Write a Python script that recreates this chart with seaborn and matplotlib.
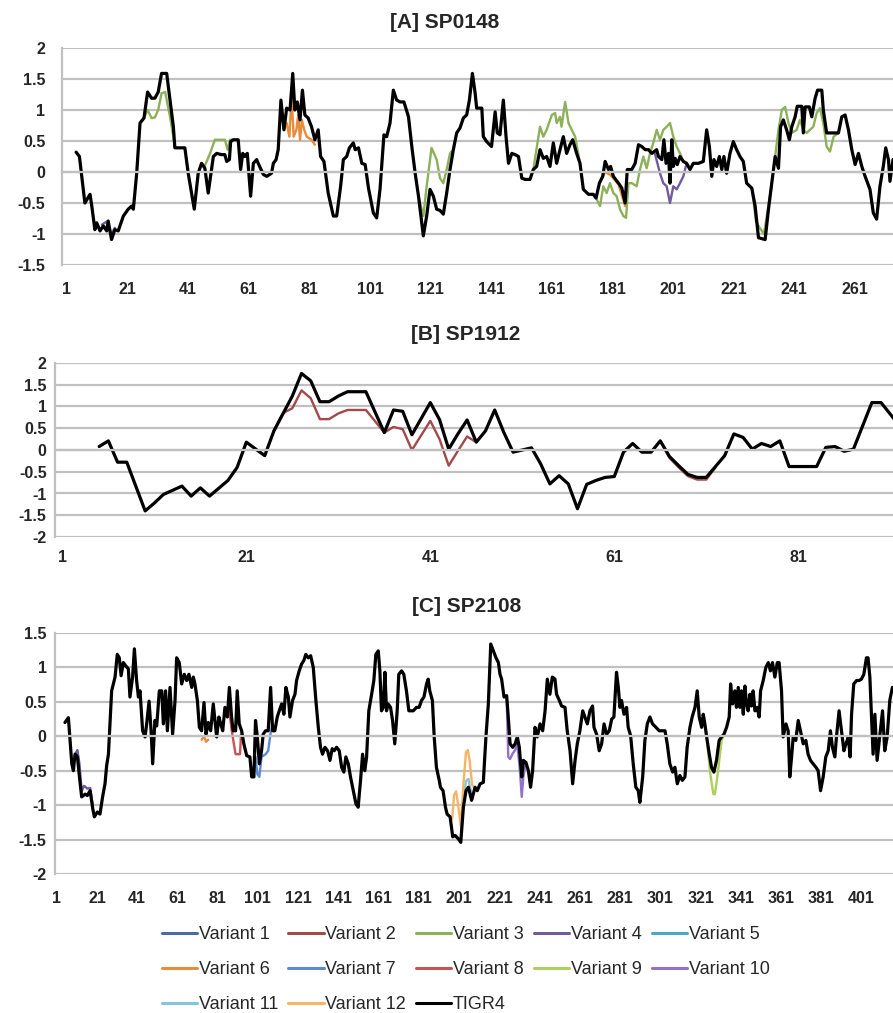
import numpy as np
import pandas as pd
import seaborn as sns
import matplotlib.pyplot as plt
from matplotlib.lines import Line2D

# ---- series names / colours (Excel 2007 style) ----
series_names = ['Variant 1', 'Variant 2', 'Variant 3', 'Variant 4', 'Variant 5', 'Variant 6',
                'Variant 7', 'Variant 8', 'Variant 9', 'Variant 10', 'Variant 11', 'Variant 12', 'TIGR4']
series_colors = ['#4A6BA3', '#A2494A', '#8CB158', '#6F5B9E', '#4BA7C6', '#E88B3A',
                 '#5B8AD9', '#CC514F', '#AECF5E', '#9271CC', '#83C5DA', '#F4B566', '#000000']

# ---- [A] SP0148 ----
a_tigr4_res = [4.0, 5.1, 6.9, 8.6, 9.1, 10.2, 10.8, 11.9, 13.0, 14.1,
               14.6, 15.7, 16.8, 17.9, 19.6, 21.2, 22.3, 22.9, 24.0, 25.1,
               26.4, 27.6, 28.9, 30.0, 31.1, 32.2, 33.9, 35.0, 36.1, 36.6,
               39.9, 41.0, 43.0, 44.3, 45.4, 46.5, 47.6, 49.3, 50.4, 52.0,
               53.1, 53.7, 54.6, 55.0, 55.9, 57.5, 58.3, 59.0, 59.7, 60.5,
               61.6, 62.5, 63.6, 64.1, 65.8, 66.9, 68.5, 69.1, 70.0, 70.7,
               71.6, 72.6, 73.5, 74.6, 75.5, 76.2, 77.0, 77.9, 78.7, 79.5,
               80.6, 81.7, 82.8, 83.9, 84.7, 85.8, 87.2, 88.9, 90.0, 91.3,
               92.2, 93.3, 94.2, 95.5, 96.1, 97.2, 98.3, 99.4, 100.5, 102.1,
               103.2, 104.3, 105.6, 106.5, 107.6, 108.7, 109.8, 110.9, 112.2, 113.7,
               114.8, 115.9, 117.0, 118.6, 119.7, 120.8, 121.9, 123.0, 124.1, 125.2,
               126.3, 127.4, 128.5, 129.6, 130.7, 131.8, 132.9, 133.8, 134.8, 135.7,
               136.2, 137.9, 138.4, 139.5, 141.1, 142.3, 143.0, 143.9, 145.0, 145.9,
               146.7, 147.8, 148.9, 150.0, 151.1, 152.2, 153.8, 154.9, 156.0, 157.1,
               158.2, 159.3, 160.4, 161.5, 162.6, 163.7, 164.8, 165.9, 167.0, 167.9,
               169.2, 170.3, 171.4, 173.1, 174.7, 175.6, 176.7, 177.8, 178.6, 179.7,
               180.4, 181.3, 183.0, 184.1, 185.2, 185.9, 187.4, 188.5, 189.6, 190.7,
               191.8, 192.9, 194.0, 195.6, 196.2, 197.3, 198.0, 198.7, 199.5, 200.0,
               200.6, 201.1, 201.7, 202.4, 203.3, 204.4, 205.5, 206.6, 207.7, 209.4,
               211.0, 212.1, 213.0, 213.8, 214.5, 215.4, 216.3, 217.1, 217.8, 218.7,
               219.8, 220.9, 222.0, 223.1, 224.2, 225.3, 227.0, 228.1, 229.2, 231.4,
               232.5, 233.6, 234.7, 235.8, 236.5, 237.4, 238.5, 239.4, 240.2, 241.3,
               242.0, 243.5, 244.0, 244.6, 246.0, 246.8, 247.9, 248.7, 250.1, 250.6,
               251.7, 255.6, 256.7, 257.8, 258.9, 260.0, 261.1, 262.2, 263.3, 264.4,
               266.0, 267.1, 268.2, 269.3, 270.4, 271.2, 272.1, 272.6, 273.6]
a_tigr4_val = [0.32, 0.25, -0.50, -0.36, -0.52, -0.93, -0.82, -0.95, -0.87, -0.95,
               -0.79, -1.09, -0.93, -0.95, -0.71, -0.60, -0.55, -0.60, -0.02, 0.79,
               0.87, 1.29, 1.19, 1.19, 1.29, 1.59, 1.59, 1.16, 0.73, 0.39,
               0.39, -0.02, -0.60, -0.02, 0.14, 0.06, -0.34, 0.25, 0.30, 0.28,
               0.28, 0.17, 0.20, 0.49, 0.52, 0.52, 0.04, 0.30, 0.25, 0.30,
               -0.39, 0.14, 0.20, 0.14, -0.04, -0.07, -0.02, 0.14, 0.20, 0.36,
               1.16, 0.68, 1.03, 1.00, 1.59, 1.00, 1.13, 0.84, 1.32, 0.92,
               0.87, 0.73, 0.52, 0.68, 0.25, 0.17, -0.34, -0.71, -0.71, -0.23,
               0.20, 0.25, 0.39, 0.47, 0.36, 0.39, 0.14, 0.12, -0.26, -0.66,
               -0.74, -0.28, 0.60, 0.57, 0.79, 1.32, 1.16, 1.13, 1.13, 0.89,
               0.41, -0.02, -0.39, -1.03, -0.71, -0.28, -0.39, -0.60, -0.62, -0.68,
               -0.34, 0.04, 0.36, 0.63, 0.71, 0.87, 0.92, 1.16, 1.59, 1.27,
               1.03, 1.03, 0.57, 0.49, 0.41, 0.97, 0.63, 0.60, 1.16, 0.57,
               0.14, 0.30, 0.28, 0.25, -0.10, -0.12, -0.12, 0.04, 0.09, 0.36,
               0.22, 0.25, 0.09, 0.47, 0.14, 0.36, 0.57, 0.30, 0.44, 0.52,
               0.30, 0.14, -0.28, -0.36, -0.36, -0.42, -0.18, -0.07, 0.17, 0.04,
               0.09, -0.07, -0.18, -0.26, -0.50, 0.04, 0.04, 0.14, 0.44, 0.41,
               0.36, 0.36, 0.30, 0.36, 0.25, 0.20, 0.52, 0.14, 0.30, -0.18,
               0.52, 0.09, 0.22, 0.12, 0.25, 0.17, 0.14, 0.04, 0.14, 0.14,
               0.17, 0.68, 0.41, -0.07, 0.20, 0.09, 0.25, 0.04, 0.25, -0.02,
               0.30, 0.49, 0.36, 0.25, 0.17, -0.18, -0.26, -0.55, -1.06, -1.09,
               -0.60, -0.18, 0.25, 0.06, 0.73, 0.84, 0.68, 0.52, 0.73, 0.89,
               1.06, 1.06, 0.63, 1.05, 1.05, 0.89, 1.19, 1.32, 1.32, 1.00,
               0.63, 0.63, 0.89, 0.92, 0.68, 0.36, 0.12, 0.30, 0.09, -0.07,
               -0.28, -0.66, -0.76, -0.23, 0.09, 0.39, 0.20, -0.15, 0.20]

a_v3_res = [[26.4, 27.6, 28.9, 30.0, 31.1, 32.2, 33.4, 35.0, 36.1, 36.6],
            [45.4, 46.5, 48.2, 49.8, 51.5, 53.1, 54.0, 54.8, 55.9],
            [117.0, 118.6, 119.7, 121.3, 123.0, 124.1, 125.2, 126.3, 127.4, 128.5],
            [154.9, 157.1, 158.2, 159.3, 161.0, 162.1, 162.6, 163.7, 164.2, 165.4, 166.5, 167.6, 168.7, 170.3],
            [175.6, 176.9, 178.0, 179.1, 180.2, 181.3, 182.4, 183.5, 184.6, 185.5, 186.3, 187.4, 189.0,
             190.1, 191.2, 192.3, 193.4, 194.5, 195.6, 196.7, 197.8, 198.9, 200.0, 201.1, 202.2, 203.3, 204.4],
            [227.0, 228.4, 229.6, 231.0, 232.5, 233.6],
            [234.7, 235.8, 236.9, 238.0, 239.1, 240.2, 241.8, 242.9, 244.0, 245.1, 246.2, 247.3, 248.4,
             249.5, 250.6, 251.7, 252.8, 254.0, 255.6]]
a_v3_val = [[0.87, 1.00, 0.87, 0.88, 1.00, 1.27, 1.29, 0.89, 0.57, 0.39],
            [0.14, 0.10, 0.30, 0.52, 0.52, 0.52, 0.36, 0.52, 0.52],
            [-0.39, -0.71, -0.23, 0.39, 0.20, -0.10, -0.18, 0.04, 0.30, 0.36],
            [0.04, 0.73, 0.57, 0.68, 0.92, 0.95, 0.79, 0.89, 0.73, 1.13, 0.79, 0.68, 0.57, 0.14],
            [-0.42, -0.55, -0.23, -0.34, -0.18, -0.34, -0.39, -0.60, -0.71, -0.74, -0.18, -0.18, -0.23,
             0.04, 0.25, 0.06, 0.30, 0.47, 0.68, 0.52, 0.68, 0.73, 0.79, 0.57, 0.41, 0.30, 0.17],
            [-0.26, -0.80, -0.90, -1.00, -0.55, -0.18],
            [0.25, 0.68, 1.00, 1.05, 0.79, 0.63, 0.68, 0.84, 0.68, 0.63, 0.68, 0.73, 0.95,
             1.03, 0.79, 0.41, 0.33, 0.57, 0.63]]
a_v6_res = [[72.6, 73.5, 74.4, 75.1, 75.8, 76.7, 77.3, 77.9, 78.5, 79.3, 80.1, 81.7, 82.8],
            [176.7, 178.6, 180.4, 183.0, 185.2]]
a_v6_val = [[0.68, 0.79, 0.57, 1.24, 0.57, 0.68, 0.92, 0.52, 0.84, 0.68, 0.57, 0.52, 0.44],
            [-0.18, 0.00, -0.05, -0.20, -0.55]]
a_v4_res = [[12.5, 14.1, 15.7, 16.8],
            [195.0, 196.7, 197.8, 198.9, 200.0, 201.1, 202.2, 203.3, 204.4, 205.5]]
a_v4_val = [[-0.85, -0.80, -1.00, -0.90],
            [0.30, -0.02, -0.18, -0.23, -0.50, -0.23, -0.28, -0.18, -0.07, 0.14]]

# ---- [B] SP1912 ----
b_tigr4_res = [5, 6, 7, 8, 10, 11, 12, 14, 15, 16, 17, 19, 20, 21, 23, 24, 26, 27, 28, 29,
               30, 31, 32, 34, 36, 37, 38, 39, 41, 42, 43, 44, 45, 46, 47, 48, 49, 50, 52, 53,
               54, 55, 56, 57, 58, 59, 60, 61, 62, 63, 64, 65, 66, 67, 68, 69, 70, 71, 72, 73,
               74, 75, 76, 77, 78, 79, 80, 83, 84, 85, 86, 87, 89, 90, 92]
b_tigr4_val = [0.08, 0.21, -0.28, -0.28, -1.40, -1.22, -1.02, -0.83, -1.06, -0.87,
               -1.06, -0.70, -0.40, 0.18, -0.13, 0.44, 1.24, 1.76, 1.59, 1.11,
               1.11, 1.24, 1.34, 1.34, 0.40, 0.92, 0.89, 0.35, 1.09, 0.70,
               0.02, 0.37, 0.69, 0.18, 0.44, 0.92, 0.40, -0.05, 0.05, -0.32,
               -0.78, -0.59, -0.78, -1.35, -0.79, -0.70, -0.63, -0.61, -0.05, 0.15,
               -0.05, -0.05, 0.21, -0.15, -0.36, -0.56, -0.63, -0.63, -0.38, -0.13,
               0.37, 0.29, 0.02, 0.15, 0.08, 0.21, -0.38, -0.38, 0.06, 0.08,
               -0.03, 0.02, 1.09, 1.09, 0.56]
b_v2_res = [[24, 25, 26, 27, 28, 29, 30, 31, 32, 34, 36, 37, 38, 39, 41, 42, 43, 44, 45, 46],
            [66, 67, 68, 69, 70, 71, 72]]
b_v2_val = [[0.44, 0.85, 0.96, 1.37, 1.19, 0.71, 0.71, 0.84, 0.92, 0.92, 0.40, 0.53, 0.48, 0.00,
             0.67, 0.25, -0.36, -0.02, 0.31, 0.18],
            [0.21, -0.18, -0.40, -0.60, -0.68, -0.68, -0.40]]

# ---- [C] SP2108 ----
c_tigr4_res = [5.1, 6.8, 8.5, 9.3, 10.1, 11.3, 12.3, 13.4, 15.1, 16.2,
               17.6, 18.9, 19.7, 21.2, 22.5, 23.8, 25.0, 25.8, 26.7, 28.3,
               30.0, 31.1, 32.1, 33.0, 34.1, 35.4, 36.6, 37.4, 38.7, 39.6,
               40.7, 41.6, 42.4, 43.7, 44.9, 45.7, 46.9, 47.9, 48.7, 49.8,
               50.7, 52.0, 53.2, 54.0, 55.1, 56.0, 57.3, 58.6, 59.8, 60.6,
               61.9, 63.1, 64.4, 65.6, 66.7, 68.1, 68.9, 69.7, 70.9, 71.9,
               73.0, 74.2, 75.2, 76.3, 77.5, 78.8, 80.5, 81.6, 82.5, 83.5,
               84.6, 85.8, 86.8, 87.9, 88.7, 89.9, 90.7, 91.7, 92.9, 94.0,
               95.4, 97.0, 97.9, 99.0, 99.8, 100.7, 101.7, 102.8, 103.6, 104.8,
               106.1, 107.3, 108.3, 109.4, 110.6, 111.6, 112.8, 113.9, 114.9, 116.1,
               116.9, 118.2, 119.4, 120.2, 121.5, 122.7, 123.8, 124.8, 126.0, 127.2,
               128.5, 129.8, 131.0, 132.1, 133.1, 134.3, 135.6, 136.8, 137.9, 138.9,
               140.1, 141.4, 142.6, 143.7, 144.7, 145.9, 147.0, 148.4, 149.7, 150.8,
               152.0, 153.0, 154.1, 155.0, 156.1, 157.5, 158.6, 159.6, 160.8, 161.6,
               162.4, 163.3, 164.1, 164.9, 165.7, 166.9, 167.9, 169.0, 170.2, 171.0,
               172.4, 173.5, 174.8, 176.0, 177.0, 178.2, 179.8, 181.1, 182.3, 183.5,
               184.8, 185.6, 186.4, 187.7, 188.6, 189.7, 191.1, 191.7, 193.0, 194.2,
               195.0,
               196.5, 197.8, 199.0, 200.6, 201.8, 203.1, 204.4, 205.6, 207.2, 208.9,
               210.0, 211.4, 213.0, 214.3, 215.5, 216.7, 218.0, 219.3, 220.5, 221.3,
               222.1, 223.3, 224.6, 225.4, 226.3, 227.6, 228.8, 229.9, 230.9, 232.1,
               232.9, 234.2, 235.4, 236.5, 237.5, 238.7, 239.8, 241.2, 242.5, 243.7,
               244.8, 246.1, 247.3, 248.6, 249.4, 250.8, 251.9, 253.6, 254.7, 256.1,
               257.4, 258.6, 259.7, 261.0, 262.4, 263.5, 264.7, 266.0, 267.3, 268.0,
               269.3, 270.6, 271.8, 273.0, 274.3, 275.6, 276.8, 277.9, 279.2, 280.1,
               280.9, 281.7, 282.9, 284.2, 285.0, 286.2, 287.5, 288.8, 290.0, 290.8,
               292.2, 293.3, 294.5, 295.8, 297.1, 298.8, 300.4, 302.1, 303.3, 304.4,
               305.7, 307.1, 308.2, 309.4, 310.7, 311.9, 313.2, 314.3, 315.7, 316.8,
               318.2, 319.3, 320.3, 321.5, 322.3, 323.1, 324.0, 325.3, 326.4, 327.6,
               328.9, 330.2, 331.4, 332.6, 333.9, 335.2, 335.9, 336.9, 338.0, 338.8,
               339.7, 340.5, 341.3, 342.2, 343.0, 343.8, 344.6, 345.5, 346.3, 347.1,
               348.0, 349.1, 350.1, 350.8, 352.1, 353.4, 354.6, 355.7, 356.7, 357.9,
               359.1, 360.0, 361.2, 362.0, 363.4, 364.5, 365.3, 366.2, 367.0, 368.3,
               369.5, 370.6, 372.0, 373.3, 374.4, 375.6, 376.9, 378.3, 379.4, 380.6,
               381.9, 383.2, 384.4, 385.5, 386.5, 387.7, 388.5, 389.8, 391.0, 392.2,
               393.2, 394.4, 395.3, 396.0, 397.1, 398.5, 399.8, 400.9, 402.1, 403.4,
               404.2, 405.1, 405.9, 406.7, 407.6, 408.7, 410.0, 411.4, 412.5, 413.7,
               415.0, 416.3]
c_tigr4_val = [0.20, 0.27, -0.40, -0.50, -0.26, -0.30, -0.59, -0.88, -0.84, -0.86,
               -0.79, -1.05, -1.17, -1.10, -1.13, -0.88, -0.69, -0.43, -0.26, 0.66,
               0.86, 1.19, 1.14, 0.88, 1.07, 1.02, 0.98, 0.57, 0.86, 1.27,
               0.81, 0.57, 0.66, 0.08, -0.01, 0.18, 0.51, 0.08, -0.40, 0.23,
               0.15, 0.66, 0.66, 0.18, 0.66, 0.08, 0.71, 0.03, 0.52, 1.14,
               1.07, 0.76, 0.90, 0.81, 0.90, 0.71, 0.86, 0.76, 0.52, 0.13,
               0.08, 0.49, 0.03, 0.20, 0.08, 0.47, -0.01, 0.28, 0.18, 0.08,
               0.42, 0.28, 0.71, 0.28, 0.08, 0.08, 0.66, 0.18, 0.08, -0.11,
               -0.28, -0.30, -0.59, -0.59, 0.23, -0.01, -0.40, -0.21, 0.03, 0.08,
               0.08, 0.71, 0.08, 0.08, 0.28, 0.37, 0.47, 0.32, 0.71, 0.57,
               0.28, 0.52, 0.61, 0.81, 0.95, 1.05, 1.10, 1.19, 1.14, 1.17,
               1.00, 0.52, 0.13, -0.16, -0.26, -0.16, -0.21, -0.35, -0.18, -0.21,
               -0.16, -0.21, -0.45, -0.52, -0.30, -0.40, -0.59, -0.79, -0.98, -1.03,
               -0.64, -0.26, -0.50, -0.30, 0.37, 0.61, 0.81, 1.19, 1.24, 0.95,
               0.37, 0.42, 0.93, 0.37, 0.47, 0.42, 0.23, -0.11, 0.37, 0.90,
               0.95, 0.90, 0.66, 0.37, 0.37, 0.37, 0.42, 0.42, 0.52, 0.57,
               0.76, 0.83, 0.66, 0.52, -0.01, -0.45, -0.64, -0.74, -0.79, -1.03,
               -1.13,
               -1.17, -1.46, -1.44, -1.49, -1.54, -1.03, -0.79, -0.74, -0.93, -0.74,
               -0.79, -0.69, -0.67, -0.01, 0.47, 1.34, 1.24, 1.14, 1.07, 0.90,
               0.83, 0.57, 0.59, 0.28, -0.11, -0.16, -0.11, -0.01, -0.16, -0.59,
               -0.35, -0.38, -0.50, -0.74, -0.50, 0.13, -0.01, 0.18, 0.08, 0.37,
               0.83, 0.61, 0.86, 0.83, 0.61, 0.52, 0.44, 0.42, 0.08, -0.21,
               -0.69, -0.35, -0.11, 0.08, 0.37, 0.28, 0.18, 0.37, 0.44, 0.13,
               0.03, -0.21, -0.11, 0.18, 0.03, 0.08, 0.25, 0.28, 0.93, 0.71,
               0.42, 0.52, 0.32, 0.42, 0.13, 0.01, -0.40, -0.74, -0.79, -0.96,
               -0.59, -0.06, 0.18, 0.28, 0.18, 0.13, 0.08, 0.08, 0.08, -0.11,
               -0.40, -0.52, -0.45, -0.69, -0.57, -0.64, -0.59, -0.16, 0.13, 0.28,
               0.42, 0.66, 0.28, 0.13, 0.32, 0.18, -0.01, -0.26, -0.45, -0.52,
               -0.35, -0.06, -0.01, 0.03, 0.13, 0.28, 0.76, 0.47, 0.66, 0.42,
               0.71, 0.42, 0.66, 0.32, 0.73, 0.47, 0.37, 0.61, 0.44, 0.66,
               0.37, 0.42, 0.28, 0.66, 0.81, 1.00, 1.07, 0.95, 1.07, 0.86,
               1.07, 1.07, 0.66, -0.01, 0.18, 0.08, -0.59, -0.30, -0.01, -0.06,
               0.23, 0.08, -0.11, -0.06, -0.26, -0.35, -0.40, -0.45, -0.50, -0.79,
               -0.59, -0.30, -0.21, 0.08, -0.16, -0.30, -0.01, 0.37, 0.08, -0.21,
               -0.11, -0.01, -0.30, 0.32, 0.76, 0.81, 0.81, 0.83, 0.90, 1.14,
               1.14, 0.86, 0.28, -0.26, 0.32, -0.35, -0.01, 0.37, -0.21, -0.01,
               0.52, 0.71]

c_v4_res = [[10.1, 11.3, 12.3, 13.4, 14.5, 15.1, 16.2, 17.6, 18.9]]
c_v4_val = [[-0.26, -0.20, -0.40, -0.80, -0.72, -0.73, -0.76, -0.75, -1.00]]
c_v6_res = [[73.0, 74.2, 75.2, 76.3]]
c_v6_val = [[-0.05, 0.00, -0.08, -0.05]]
c_v8_res = [[85.8, 86.8, 87.9, 88.7, 89.9, 91.0, 92.1, 92.6, 93.5]]
c_v8_val = [[0.28, 0.37, 0.10, -0.05, -0.26, -0.26, -0.26, 0.03, 0.00]]
c_v7_res = [[98.5, 99.8, 100.7, 101.7, 102.8, 104.8, 106.1, 107.3, 108.3]]
c_v7_val = [[-0.55, -0.30, -0.55, -0.59, -0.30, -0.26, -0.21, 0.05, 0.18]]
c_v12_res = [[196.5, 197.5, 198.5, 199.5, 200.5, 201.8, 203.1, 204.4, 205.3, 206.2, 207.4, 208.5]]
c_v12_val = [[-1.17, -1.20, -0.85, -0.80, -1.00, -1.30, -0.70, -0.23, -0.20, -0.35, -0.70, -0.75]]
c_v11_res = [[201.8, 203.1, 204.4, 205.6, 207.2]]
c_v11_val = [[-1.50, -0.90, -0.65, -0.62, -0.85]]
c_v10_res = [[224.6, 225.4, 226.3, 227.6, 228.8, 229.9, 231.2, 232.1, 232.9, 234.2]]
c_v10_val = [[0.59, -0.30, -0.33, -0.25, -0.20, -0.11, -0.50, -0.88, -0.59, -0.38]]
c_v9_res = [[323.1, 324.0, 325.6, 327.3, 328.1, 329.7, 331.4, 332.6]]
c_v9_val = [[0.18, -0.01, -0.50, -0.84, -0.84, -0.50, -0.06, 0.03]]


def build_frame(series):
    parts = []
    for name, res_segs, val_segs in series:
        for k, (rs, vs) in enumerate(zip(res_segs, val_segs)):
            seg = pd.DataFrame({'residue': rs, 'value': vs})
            seg['series'] = name
            seg['segment'] = f'{name}-{k}'
            parts.append(seg)
    return pd.concat(parts, ignore_index=True)


df_a = build_frame([('Variant 3', a_v3_res, a_v3_val), ('Variant 4', a_v4_res, a_v4_val),
                    ('Variant 6', a_v6_res, a_v6_val), ('TIGR4', [a_tigr4_res], [a_tigr4_val])])
df_b = build_frame([('Variant 2', b_v2_res, b_v2_val), ('TIGR4', [b_tigr4_res], [b_tigr4_val])])
df_c = build_frame([('Variant 4', c_v4_res, c_v4_val), ('Variant 6', c_v6_res, c_v6_val),
                    ('Variant 7', c_v7_res, c_v7_val), ('Variant 8', c_v8_res, c_v8_val),
                    ('Variant 9', c_v9_res, c_v9_val), ('Variant 10', c_v10_res, c_v10_val),
                    ('Variant 11', c_v11_res, c_v11_val), ('Variant 12', c_v12_res, c_v12_val),
                    ('TIGR4', [c_tigr4_res], [c_tigr4_val])])

palette = dict(zip(series_names, series_colors))
GRID = '#C0C0C0'

sns.set_style('white')
plt.rcParams['font.family'] = ['Liberation Sans', 'DejaVu Sans']

W, H = 893, 1013
fig = plt.figure(figsize=(W / 100, H / 100), dpi=100)


def panel(df, left, top, bottom, ylim, xlim, label_step, tick_step, xpad, ypad, ytick_len):
    ax = fig.add_axes([left / W, 1 - bottom / H, (W - left) / W, (bottom - top) / H])
    var = df[df['series'] != 'TIGR4']
    sns.lineplot(data=var, x='residue', y='value', hue='series', units='segment',
                 estimator=None, sort=False, palette=palette, linewidth=1.7,
                 legend=False, ax=ax)
    sns.lineplot(data=df[df['series'] == 'TIGR4'], x='residue', y='value', units='segment',
                 estimator=None, sort=False, color='black', linewidth=2.3,
                 legend=False, ax=ax)
    ax.set_xlim(*xlim)
    ax.set_ylim(*ylim)
    yt = np.arange(ylim[0], ylim[1] + 0.01, 0.5)
    ax.set_yticks(yt, labels=[f'{v:g}' for v in yt], fontsize=11.5, fontweight='bold')
    ax.tick_params(axis='y', length=ytick_len, width=1.5, color=GRID, pad=ypad)
    ax.yaxis.grid(True, color=GRID, linewidth=1.6)
    ax.xaxis.grid(False)
    for s in ['top', 'right']:
        ax.spines[s].set_visible(False)
    ax.spines['left'].set_color(GRID)
    ax.spines['left'].set_linewidth(1.6)
    # category axis crosses at zero
    ax.spines['bottom'].set_position(('data', 0))
    ax.spines['bottom'].set_color(GRID)
    ax.spines['bottom'].set_linewidth(1.6)
    ax.set_xticks(np.arange(0.5, xlim[1], tick_step))
    ax.tick_params(axis='x', length=3, width=1.2, color=GRID, labelbottom=False)
    ax.set_xlabel('')
    ax.set_ylabel('')
    sec = ax.secondary_xaxis('bottom')
    xl = list(range(1, int(xlim[1]) + 1, label_step))
    sec.set_xticks(xl, labels=[str(v) for v in xl], fontsize=11.5, fontweight='bold')
    sec.tick_params(length=0, pad=xpad)
    sec.spines['bottom'].set_visible(False)
    return ax


panel(df_a, 62, 48, 265, (-1.5, 2), (-0.65, 273.6), 20, 10, 12, 8, 4)
panel(df_b, 55, 363, 537, (-2, 2), (0.2, 91.3), 20, 20, 9, 3, 3)
panel(df_c, 55, 633, 874, (-2, 1.5), (0.15, 416.6), 20, 20, 12, 3, 3)

fig.text(445 / W, 1 - 22 / H, '[A] SP0148', ha='center', va='center', fontsize=15, fontweight='bold')
fig.text(466 / W, 1 - 334 / H, '[B] SP1912', ha='center', va='center', fontsize=15, fontweight='bold')
fig.text(467 / W, 1 - 606 / H, '[C] SP2108', ha='center', va='center', fontsize=15, fontweight='bold')

# legend laid out row-wise like the original (5 columns)
order = [0, 5, 10, 1, 6, 11, 2, 7, 12, 3, 8, 4, 9]
handles = [Line2D([], [], color=series_colors[i], linewidth=2.2) for i in order]
labels = [series_names[i] for i in order]
fig.legend(handles, labels, loc='upper left', bbox_to_anchor=(162 / W, 1 - 926 / H),
           ncol=5, frameon=False, fontsize=13, handlelength=1.95, handletextpad=0.1,
           columnspacing=0.55, labelspacing=1.0, borderpad=0, borderaxespad=0)

fig.savefig('out.png', dpi=100)
